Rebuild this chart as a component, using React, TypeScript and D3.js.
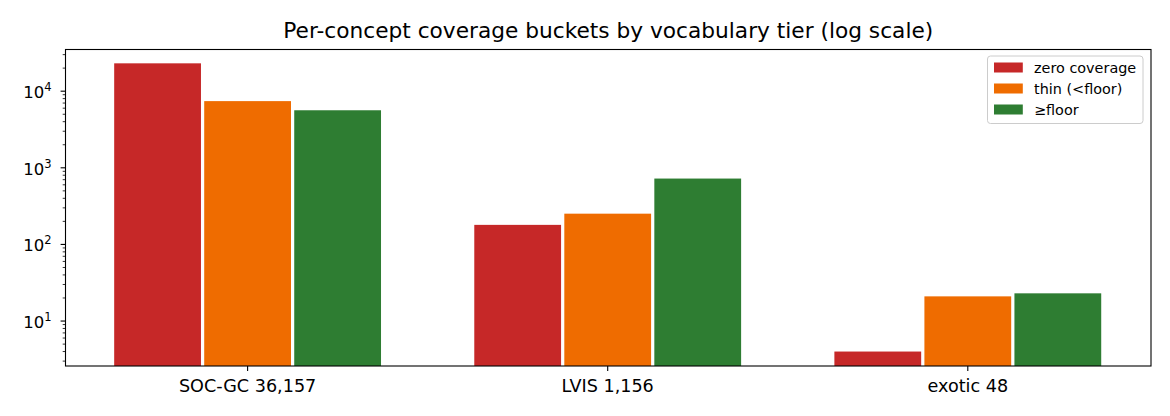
import React, { useEffect, useRef } from 'react';
import * as d3 from 'd3';

const tiers = ['SOC-GC 36,157', 'LVIS 1,156', 'exotic 48'];
const buckets = ['zero coverage', 'thin (<floor)', '≥floor'];
const bucketColors = ['#c62828', '#ef6c00', '#2e7d32'];
const zeroCoverage = [23100, 180, 4];
const thinCoverage = [7420, 252, 21];
const floorCoverage = [5637, 724, 23];
const yTicks = [1, 2, 3, 4];

const W = 1170;
const H = 416;

export default function App() {
  const svgRef = useRef<SVGSVGElement>(null);

  useEffect(() => {
    document.body.style.margin = '0';
    if (!svgRef.current) return;
    const svg = d3.select(svgRef.current);
    svg.selectAll('*').remove();

    const left = 65.5, right = 1151, top = 49.5, bottom = 366;
    const font = 'DejaVu Sans, sans-serif';

    // category index -> pixel, measured from the group centres
    const x = d3.scaleLinear().domain([0, 2]).range([247.6, 967.8]);
    const y = d3.scaleLog().domain([2.59, 35000]).range([bottom, top]);

    const series = [zeroCoverage, thinCoverage, floorCoverage];
    const step = 0.25;
    const bw = 0.241;

    // Bars
    series.forEach((vals, s) => {
      svg.append('g')
        .selectAll('rect')
        .data(vals)
        .enter()
        .append('rect')
        .attr('x', (_, i) => x(i + (s - 1) * step - bw / 2))
        .attr('width', x(bw) - x(0))
        .attr('y', d => y(d))
        .attr('height', d => bottom - y(d))
        .attr('fill', bucketColors[s]);
    });

    // Frame
    svg.append('rect')
      .attr('x', left).attr('y', top)
      .attr('width', right - left).attr('height', bottom - top)
      .attr('fill', 'none').attr('stroke', '#000').attr('stroke-width', 1.1);

    // Y ticks: major + minor
    const minor: number[] = [];
    for (let e = 0; e <= 4; e++) {
      for (let k = 2; k <= 9; k++) {
        const v = k * Math.pow(10, e);
        if (v >= 2.59 && v <= 35000) minor.push(v);
      }
    }
    svg.append('g').selectAll('line').data(minor).enter().append('line')
      .attr('x1', left).attr('x2', left - 2.8)
      .attr('y1', d => y(d)).attr('y2', d => y(d))
      .attr('stroke', '#000').attr('stroke-width', 0.8);

    const yg = svg.append('g');
    yTicks.forEach(e => {
      const yy = y(Math.pow(10, e));
      yg.append('line')
        .attr('x1', left).attr('x2', left - 4.9)
        .attr('y1', yy).attr('y2', yy)
        .attr('stroke', '#000').attr('stroke-width', 1.1);
      const t = yg.append('text')
        .attr('x', 51.5).attr('y', yy + 7)
        .attr('text-anchor', 'end')
        .attr('font-family', font).attr('font-size', 16.5)
        .attr('fill', '#000');
      t.append('tspan').text('10');
      t.append('tspan').attr('dy', -7).attr('font-size', 11.5).text(String(e));
    });

    // X ticks
    const xg = svg.append('g');
    tiers.forEach((name, i) => {
      xg.append('line')
        .attr('x1', x(i)).attr('x2', x(i))
        .attr('y1', bottom).attr('y2', bottom + 4.9)
        .attr('stroke', '#000').attr('stroke-width', 1.1);
      xg.append('text')
        .attr('x', x(i)).attr('y', 392.3)
        .attr('text-anchor', 'middle')
        .attr('font-family', font).attr('font-size', 17.6)
        .attr('fill', '#000')
        .text(name);
    });

    // Title
    svg.append('text')
      .attr('x', (left + right) / 2).attr('y', 38)
      .attr('text-anchor', 'middle')
      .attr('font-family', font).attr('font-size', 21.7)
      .attr('fill', '#000')
      .text('Per-concept coverage buckets by vocabulary tier (log scale)');

    // Legend
    const lg = svg.append('g');
    lg.append('rect')
      .attr('x', 987.5).attr('y', 56)
      .attr('width', 155.5).attr('height', 67.5)
      .attr('rx', 3)
      .attr('fill', '#fff').attr('fill-opacity', 0.8)
      .attr('stroke', '#ccc').attr('stroke-width', 1);
    buckets.forEach((b, i) => {
      const cy = 67.5 + i * 21;
      lg.append('rect')
        .attr('x', 994).attr('y', cy - 5)
        .attr('width', 28.8).attr('height', 10)
        .attr('fill', bucketColors[i]);
      lg.append('text')
        .attr('x', 1034).attr('y', cy + 5.5)
        .attr('font-family', font).attr('font-size', 14.4)
        .attr('fill', '#000')
        .text(b);
    });
  }, []);

  return (
    <div style={{ width: W, height: H }}>
      <svg ref={svgRef} width={W} height={H} style={{ display: 'block', background: '#fff' }} />
    </div>
  );
}
